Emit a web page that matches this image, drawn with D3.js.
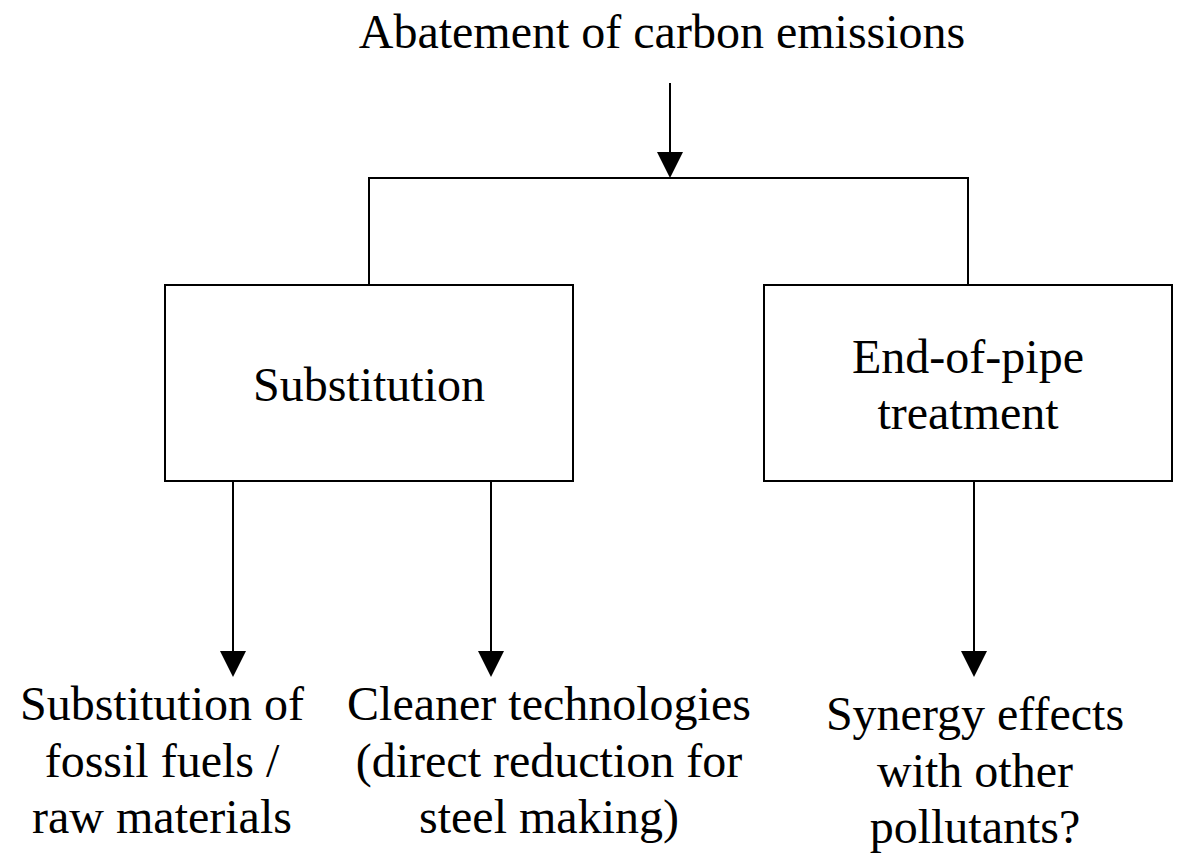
<!DOCTYPE html>
<html>
<head>
<meta charset="utf-8">
<script src="https://cdn.jsdelivr.net/npm/d3@7"></script>
<style>
  body { margin: 0; background: #fff; }
  text { font-family: "Liberation Serif", "Times New Roman", serif; fill: #000; }
</style>
</head>
<body>
<svg id="chart" width="1181" height="854"></svg>
<script>
// labels
var title = "Abatement of carbon emissions";
var boxLabels = [["Substitution"], ["End-of-pipe", "treatment"]];
var leafLabels = [
  ["Substitution of", "fossil fuels /", "raw materials"],
  ["Cleaner technologies", "(direct reduction for", "steel making)"],
  ["Synergy effects", "with other", "pollutants?"]
];

// layout (pixels)
var fontSize = 48, lineH = 56.5;
var titleX = 662, titleY = 48;
var topArrow = {x: 670, y1: 83, y2: 178};
var boxes = [{x0: 165, x1: 573}, {x0: 764, x1: 1172}];
var boxY0 = 285, boxY1 = 481;
var leafArrowX = [233, 491, 974];
var leafArrowY2 = 677;
var leafTextX = [162, 549, 975];
var leafTextY = [720, 720, 730];
var head = 26, headW = 26;

var svg = d3.select("#chart");
var g = svg.append("g");

function arrow(x, y1, y2) {
  g.append("line")
    .attr("x1", x).attr("x2", x)
    .attr("y1", y1).attr("y2", y2 - head + 1)
    .attr("stroke", "#000").attr("stroke-width", 2);
  var p = d3.path();
  p.moveTo(x - headW / 2, y2 - head);
  p.lineTo(x + headW / 2, y2 - head);
  p.lineTo(x, y2);
  p.closePath();
  g.append("path").attr("d", p.toString()).attr("fill", "#000");
}

// title + top arrow
g.append("text")
  .attr("x", titleX).attr("y", titleY)
  .attr("text-anchor", "middle")
  .attr("font-size", fontSize)
  .text(title);
arrow(topArrow.x, topArrow.y1, topArrow.y2);

// bracket joining the two boxes
var cx = boxes.map(function(b){ return (b.x0 + b.x1) / 2; });
g.append("path")
  .attr("d", d3.line()([[cx[0], boxY0], [cx[0], topArrow.y2], [cx[1], topArrow.y2], [cx[1], boxY0]]))
  .attr("fill", "none").attr("stroke", "#000").attr("stroke-width", 2);

// boxes
var boxG = g.selectAll("g.box").data(boxes).enter().append("g").attr("class", "box");
boxG.append("rect")
  .attr("x", function(d){ return d.x0; })
  .attr("y", boxY0)
  .attr("width", function(d){ return d.x1 - d.x0; })
  .attr("height", boxY1 - boxY0)
  .attr("fill", "#fff").attr("stroke", "#000").attr("stroke-width", 2);
boxG.append("text")
  .attr("text-anchor", "middle")
  .attr("font-size", fontSize)
  .each(function(d, i){
    var lines = boxLabels[i];
    var mid = (boxY0 + boxY1) / 2;
    var first = mid + fontSize * 0.37 - (lines.length - 1) * lineH / 2;
    d3.select(this).selectAll("tspan").data(lines).enter().append("tspan")
      .attr("x", (d.x0 + d.x1) / 2)
      .attr("y", function(l, j){ return first + j * lineH; })
      .text(function(l){ return l; });
  });

// leaves
leafLabels.forEach(function(lines, i){
  arrow(leafArrowX[i], boxY1, leafArrowY2);
  g.append("text")
    .attr("text-anchor", "middle")
    .attr("font-size", fontSize)
    .selectAll("tspan").data(lines).enter().append("tspan")
    .attr("x", leafTextX[i])
    .attr("y", function(l, j){ return leafTextY[i] + j * lineH; })
    .text(function(l){ return l; });
});
</script>
</body>
</html>
